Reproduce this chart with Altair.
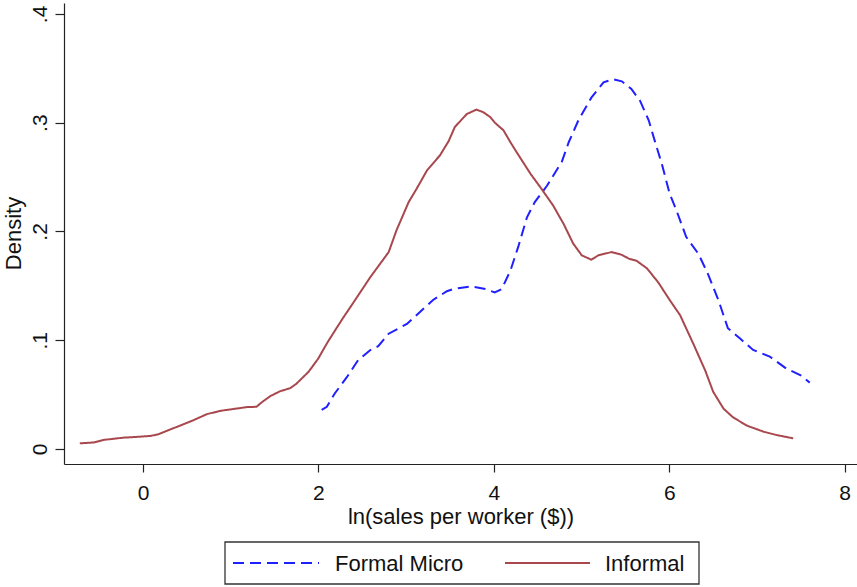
import altair as alt
import pandas as pd

informal_x = [-0.721, -0.562, -0.453, -0.225, -0.037, 0.083, 0.172, 0.311, 0.420, 0.579,
              0.727, 0.876, 1.025, 1.184, 1.293, 1.352, 1.451, 1.561, 1.680, 1.749,
              1.888, 1.997, 2.096, 2.166, 2.285, 2.394, 2.493, 2.592, 2.701, 2.801,
              2.890, 3.029, 3.118, 3.237, 3.386, 3.485, 3.555, 3.693, 3.803, 3.882,
              3.961, 4.011, 4.110, 4.189, 4.259, 4.418, 4.527, 4.675, 4.795, 4.904,
              5.003, 5.112, 5.191, 5.340, 5.459, 5.539, 5.628, 5.747, 5.876, 6.005,
              6.124, 6.273, 6.411, 6.501, 6.620, 6.729, 6.888, 7.076, 7.225, 7.413]
informal_y = [0.0052, 0.0060, 0.0083, 0.0104, 0.0113, 0.0120, 0.0134, 0.0180, 0.0214, 0.0266,
              0.0320, 0.0350, 0.0367, 0.0385, 0.0388, 0.0428, 0.0486, 0.0530, 0.0560, 0.0600,
              0.0710, 0.0830, 0.0970, 0.1060, 0.1210, 0.1340, 0.1460, 0.1580, 0.1700, 0.1810,
              0.2010, 0.2270, 0.2390, 0.2560, 0.2700, 0.2830, 0.2960, 0.3080, 0.3120, 0.3095,
              0.3050, 0.3000, 0.2930, 0.2820, 0.2730, 0.2530, 0.2410, 0.2240, 0.2070, 0.1890,
              0.1780, 0.1740, 0.1780, 0.1810, 0.1785, 0.1750, 0.1730, 0.1660, 0.1530, 0.1370,
              0.1230, 0.0970, 0.0720, 0.0526, 0.0370, 0.0290, 0.0214, 0.0159, 0.0128, 0.0098]

formal_x = [2.037, 2.096, 2.186, 2.324, 2.453, 2.592, 2.682, 2.801, 3.009, 3.158,
            3.307, 3.386, 3.465, 3.535, 3.614, 3.743, 3.902, 4.011, 4.090, 4.189,
            4.279, 4.378, 4.467, 4.606, 4.775, 4.854, 4.963, 5.112, 5.251, 5.360,
            5.459, 5.568, 5.668, 5.767, 5.836, 5.916, 6.005, 6.084, 6.193, 6.332,
            6.441, 6.560, 6.669, 6.808, 6.957, 7.146, 7.334, 7.493, 7.602]
formal_y = [0.0360, 0.0388, 0.0510, 0.0660, 0.0817, 0.0910, 0.0945, 0.1060, 0.1150, 0.1260,
            0.1370, 0.1410, 0.1450, 0.1470, 0.1480, 0.1495, 0.1470, 0.1440, 0.1470, 0.1640,
            0.1860, 0.2130, 0.2270, 0.2420, 0.2640, 0.2820, 0.3020, 0.3230, 0.3370, 0.3400,
            0.3380, 0.3310, 0.3200, 0.3020, 0.2830, 0.2620, 0.2346, 0.2190, 0.1950, 0.1795,
            0.1610, 0.1370, 0.1110, 0.1015, 0.0910, 0.0850, 0.0740, 0.0680, 0.0610]

series_names = ["Formal Micro", "Informal"]
series_colors = ["#1f1fff", "#a8474d"]
x_ticks = [0, 2, 4, 6, 8]
y_ticks = [0, 0.1, 0.2, 0.3, 0.4]

df = pd.concat([
    pd.DataFrame({"x": formal_x, "y": formal_y, "series": series_names[0], "order": range(len(formal_x))}),
    pd.DataFrame({"x": informal_x, "y": informal_y, "series": series_names[1], "order": range(len(informal_x))}),
])

FONT = "Liberation Sans"

lines = alt.Chart(df).mark_line(strokeWidth=2, clip=True).encode(
    x=alt.X("x:Q",
            scale=alt.Scale(domain=[-0.901, 8.141], nice=False, zero=False),
            axis=alt.Axis(values=x_ticks, title="ln(sales per worker ($))", grid=False,
                          tickSize=8, labelPadding=10, labelFontSize=21, titleFontSize=22,
                          titleY=59, titleBaseline="alphabetic", format="d")),
    y=alt.Y("y:Q",
            scale=alt.Scale(domain=[-0.0138, 0.410], nice=False, zero=False),
            axis=alt.Axis(values=y_ticks, title="Density", grid=False,
                          tickSize=9, labelAngle=270, labelAlign="center",
                          labelBaseline="alphabetic", labelPadding=9,
                          labelExpr="datum.value == 0 ? '0' : '.' + round(datum.value * 10)",
                          labelFontSize=21, titleFontSize=22, titleAngle=270,
                          titleAlign="center", titleBaseline="alphabetic",
                          titleX=-44, titleY=230)),
    color=alt.Color("series:N",
                    scale=alt.Scale(domain=series_names, range=series_colors),
                    legend=None),
    strokeDash=alt.StrokeDash("series:N",
                              scale=alt.Scale(domain=series_names, range=[[11, 6], [1, 0]]),
                              legend=None),
    order="order:Q",
)

# Legend drawn as a boxed key below the plot
box = alt.Chart(pd.DataFrame({"k": [0]})).mark_rect(
    fill="white", stroke="#333", strokeWidth=1.3
).encode(x=alt.value(161), x2=alt.value(635), y=alt.value(539), y2=alt.value(581))

key1 = alt.Chart(pd.DataFrame({"label": [series_names[0]]})).mark_rule(
    color=series_colors[0], strokeWidth=2, strokeDash=[11, 6]
).encode(x=alt.value(169), x2=alt.value(255), y=alt.value(560))

key2 = alt.Chart(pd.DataFrame({"label": [series_names[1]]})).mark_rule(
    color=series_colors[1], strokeWidth=2
).encode(x=alt.value(441), x2=alt.value(526), y=alt.value(560))

lab1 = alt.Chart(pd.DataFrame({"label": [series_names[0]]})).mark_text(
    align="left", baseline="alphabetic", font=FONT, fontSize=22, color="#111"
).encode(text="label:N", x=alt.value(271), y=alt.value(568))

lab2 = alt.Chart(pd.DataFrame({"label": [series_names[1]]})).mark_text(
    align="left", baseline="alphabetic", font=FONT, fontSize=22, color="#111"
).encode(text="label:N", x=alt.value(541), y=alt.value(568))

chart = alt.layer(lines, box, key1, key2, lab1, lab2).properties(
    width=793, height=461,
    padding={"left": 64, "top": 3, "right": 0, "bottom": 123},
    autosize=alt.AutoSizeParams(type="none"),
).configure_view(stroke=None).configure_axis(
    domainColor="#222", tickColor="#222", labelColor="#111", titleColor="#111",
    labelFont=FONT, titleFont=FONT, titleFontWeight="normal", domainWidth=1.2, tickWidth=1.2,
)

chart.save("out.html", embed_options={"renderer": "svg", "actions": False})
